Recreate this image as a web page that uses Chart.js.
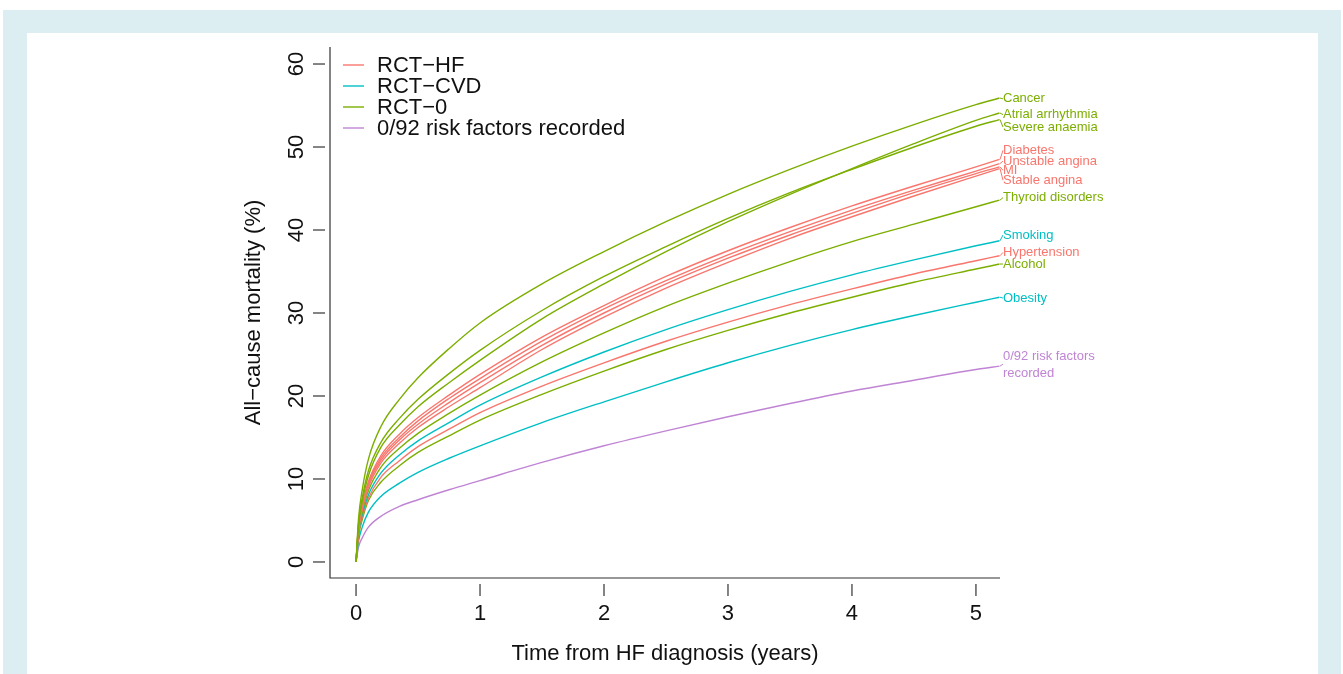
<!DOCTYPE html>
<html lang="en">
<head>
  <meta charset="UTF-8">
  <title>All-cause mortality by risk factor</title>
  <script src="https://cdn.jsdelivr.net/npm/chart.js"></script>
  <style>
    html, body { margin: 0; padding: 0; background: #fff; overflow: hidden; }
    #frame { position: absolute; left: 3px; top: 10px; width: 1338px; height: 664px; background: #ddeef3; }
    #panel { position: absolute; left: 27px; top: 33px; width: 1291px; height: 641px; background: #fff; }
    #wrap { position: absolute; left: 0; top: 0; width: 1343px; height: 674px; }
  </style>
</head>
<body>
  <div id="frame"></div>
  <div id="panel"></div>
  <div id="wrap"><canvas id="myChart" width="1343" height="674"></canvas></div>

  <script>
    // time from HF diagnosis (years) at which curves were read
    var years = [0, 0.02, 0.05, 0.1, 0.2, 0.35, 0.5, 0.75, 1, 1.5, 2, 2.5, 3, 3.5, 4, 4.5, 5, 5.19];

    // cumulative all-cause mortality (%)
    var cancer        = [0, 5.2, 8.7, 12.4, 16.3, 19.6, 22.2, 25.7, 28.8, 33.5, 37.4, 41.0, 44.3, 47.3, 50.1, 52.7, 55.1, 55.9];
    var atrialArrh    = [0, 4.4, 7.3, 10.4, 13.8, 16.5, 18.7, 21.6, 24.3, 29.3, 33.5, 37.4, 41.0, 44.3, 47.4, 50.4, 53.2, 54.1];
    var sevAnaemia    = [0, 4.6, 7.7, 11.0, 14.4, 17.3, 19.6, 22.7, 25.5, 30.3, 34.4, 38.0, 41.4, 44.5, 47.3, 50.0, 52.5, 53.3];
    var diabetes      = [0, 4.1, 6.8, 9.7, 12.8, 15.4, 17.4, 20.1, 22.6, 27.1, 30.9, 34.4, 37.5, 40.3, 42.9, 45.3, 47.6, 48.5];
    var unstableAng   = [0, 4.0, 6.6, 9.5, 12.5, 15.0, 17.0, 19.7, 22.1, 26.6, 30.5, 33.9, 37.0, 39.8, 42.4, 44.8, 47.1, 48.0];
    var mi            = [0, 3.9, 6.5, 9.3, 12.2, 14.7, 16.6, 19.2, 21.6, 26.1, 30.0, 33.5, 36.6, 39.4, 42.0, 44.5, 46.8, 47.6];
    var stableAng     = [0, 3.8, 6.3, 9.0, 11.9, 14.3, 16.2, 18.7, 21.0, 25.6, 29.5, 33.0, 36.1, 39.0, 41.6, 44.1, 46.5, 47.4];
    var thyroid       = [0, 3.6, 6.0, 8.6, 11.4, 13.7, 15.5, 17.9, 20.1, 24.1, 27.6, 30.8, 33.6, 36.2, 38.6, 40.7, 42.8, 43.6];
    var smoking       = [0, 3.4, 5.7, 8.1, 10.7, 12.9, 14.6, 16.8, 18.9, 22.3, 25.3, 28.0, 30.4, 32.6, 34.6, 36.4, 38.1, 38.7];
    var hypertension  = [0, 3.2, 5.4, 7.7, 10.2, 12.2, 13.9, 16.0, 18.0, 21.2, 24.0, 26.6, 28.9, 31.0, 32.9, 34.7, 36.3, 36.9];
    var alcohol       = [0, 3.1, 5.1, 7.4, 9.6, 11.6, 13.2, 15.2, 17.1, 20.2, 23.0, 25.6, 27.9, 30.0, 31.9, 33.7, 35.3, 35.9];
    var obesity       = [0, 2.5, 4.2, 6.0, 7.9, 9.5, 10.8, 12.5, 14.0, 16.8, 19.3, 21.7, 24.0, 26.1, 28.0, 29.7, 31.3, 31.9];
    var noneRecorded  = [0, 1.8, 2.9, 4.2, 5.5, 6.7, 7.5, 8.7, 9.8, 12.0, 14.0, 15.8, 17.5, 19.1, 20.6, 21.9, 23.2, 23.6];

    var curveNames = ['Cancer', 'Atrial arrhythmia', 'Severe anaemia', 'Diabetes', 'Unstable angina', 'MI',
                      'Stable angina', 'Thyroid disorders', 'Smoking', 'Hypertension', 'Alcohol', 'Obesity',
                      '0/92 risk factors\nrecorded'];
    var curveValues = [cancer, atrialArrh, sevAnaemia, diabetes, unstableAng, mi, stableAng, thyroid,
                       smoking, hypertension, alcohol, obesity, noneRecorded];
    // group index of each curve: 0 RCT-HF, 1 RCT-CVD, 2 RCT-0, 3 none recorded
    var curveGroup = [2, 2, 2, 0, 0, 0, 0, 2, 1, 0, 2, 1, 3];

    var groupLabels = ['RCT\u2212HF', 'RCT\u2212CVD', 'RCT\u22120', '0/92 risk factors recorded'];
    var xTicks = [0, 1, 2, 3, 4, 5];
    var yTicks = [0, 10, 20, 30, 40, 50, 60];

    var groupColors = ['#F8766D', '#00BFC4', '#7CAE00', '#C084D4'];
    // where each end label sits (in % on the y scale), spread so they do not overlap
    var labelAt = [55.8, 53.9, 52.4, 49.6, 48.3, 47.2, 46.0, 43.9, 39.4, 37.3, 35.9, 31.8, 24.8];

    var datasets = curveValues.map(function (vals, i) {
      return {
        label: curveNames[i],
        data: vals.map(function (v, j) { return { x: years[j], y: v }; }),
        borderColor: groupColors[curveGroup[i]],
        borderWidth: 1.4,
        pointRadius: 0,
        fill: false,
        cubicInterpolationMode: 'monotone'
      };
    });

    var FONT = '"Liberation Sans", Arial, sans-serif';

    var rDecor = {
      id: 'rDecor',
      afterDraw: function (chart) {
        var c = chart.ctx, a = chart.chartArea;
        var xs = chart.scales.x, ys = chart.scales.y;
        c.save();
        c.strokeStyle = '#333';
        c.fillStyle = '#111';
        c.lineWidth = 1.2;

        // L-shaped box
        c.beginPath();
        c.moveTo(a.left, a.top);
        c.lineTo(a.left, a.bottom);
        c.lineTo(a.right, a.bottom);
        c.stroke();

        // y axis ticks and rotated labels
        c.font = '22px ' + FONT;
        yTicks.forEach(function (t) {
          var py = ys.getPixelForValue(t);
          c.beginPath();
          c.moveTo(a.left - 17, py);
          c.lineTo(a.left - 5, py);
          c.stroke();
          c.save();
          c.translate(a.left - 33, py);
          c.rotate(-Math.PI / 2);
          c.textAlign = 'center';
          c.textBaseline = 'middle';
          c.fillText(String(t), 0, 0);
          c.restore();
        });

        // x axis ticks and labels
        xTicks.forEach(function (t) {
          var px = xs.getPixelForValue(t);
          c.beginPath();
          c.moveTo(px, a.bottom + 6);
          c.lineTo(px, a.bottom + 18);
          c.stroke();
          c.textAlign = 'center';
          c.textBaseline = 'middle';
          c.fillText(String(t), px, a.bottom + 36);
        });

        // axis titles
        c.fillText('Time from HF diagnosis (years)', (a.left + a.right) / 2, a.bottom + 76);
        c.save();
        c.translate(a.left - 76, (a.top + a.bottom) / 2);
        c.rotate(-Math.PI / 2);
        c.fillText('All\u2212cause mortality (%)', 0, 0);
        c.restore();

        // legend
        groupLabels.forEach(function (lab, i) {
          var py = a.top + 18 + i * 21;
          c.strokeStyle = groupColors[i];
          c.lineWidth = 1.4;
          c.beginPath();
          c.moveTo(a.left + 13, py);
          c.lineTo(a.left + 34, py);
          c.stroke();
          c.fillStyle = '#111';
          c.textAlign = 'left';
          c.fillText(lab, a.left + 47, py + 1);
        });

        // end-of-curve labels with short connectors
        c.font = '13px ' + FONT;
        c.textAlign = 'left';
        c.textBaseline = 'middle';
        curveValues.forEach(function (vals, i) {
          var col = groupColors[curveGroup[i]];
          var endY = ys.getPixelForValue(vals[vals.length - 1]);
          var ly = ys.getPixelForValue(labelAt[i]);
          var lines = curveNames[i].split('\n');
          var midY = lines.length > 1 ? ly + 8 : ly;
          c.strokeStyle = col;
          c.lineWidth = 1;
          c.beginPath();
          c.moveTo(a.right, endY);
          c.lineTo(a.right + 3, midY);
          c.stroke();
          c.fillStyle = col;
          lines.forEach(function (ln, k) {
            c.fillText(ln, a.right + 3, ly + k * 17);
          });
        });
        c.restore();
      }
    };

    var ctx = document.getElementById('myChart').getContext('2d');
    var myChart = new Chart(ctx, {
      type: 'line',
      data: { datasets: datasets },
      options: {
        responsive: false,
        animation: false,
        layout: { padding: { left: 330, right: 343, top: 47, bottom: 96 } },
        scales: {
          x: { type: 'linear', min: -0.21, max: 5.194, display: false },
          y: { type: 'linear', min: -1.93, max: 62.05, display: false }
        },
        plugins: {
          legend: { display: false },
          tooltip: { enabled: false }
        }
      },
      plugins: [rDecor]
    });
  </script>
</body>
</html>
